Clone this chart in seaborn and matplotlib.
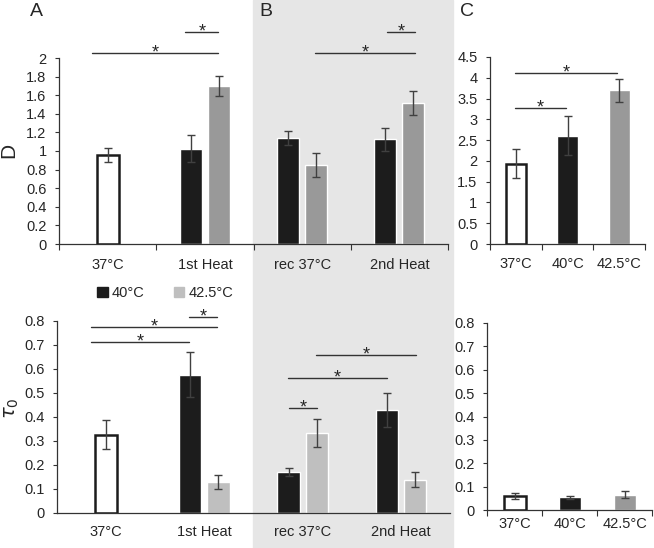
import numpy as np
import pandas as pd
import seaborn as sns
import matplotlib.pyplot as plt
from matplotlib.patches import Rectangle, Patch
from matplotlib.ticker import FuncFormatter

sns.set_style("white")
plt.rcParams['font.family'] = ['Liberation Sans', 'DejaVu Sans']
plt.rcParams['mathtext.fontset'] = 'dejavusans'

# ---- data ----
ab_cats = ['37°C', '1st Heat', 'rec 37°C', '2nd Heat']
temps = ['40°C', '42.5°C']
heat_cond = ['1st Heat', '1st Heat', 'rec 37°C', 'rec 37°C', '2nd Heat', '2nd Heat']
heat_temp = ['40°C', '42.5°C', '40°C', '42.5°C', '40°C', '42.5°C']

d_ctrl = 0.955
d_ctrl_err = 0.075
d_40 = [1.025, 1.14, 1.125]
d_40_err = [0.145, 0.075, 0.125]
d_425 = [1.70, 0.85, 1.52]
d_425_err = [0.105, 0.13, 0.13]

tau_ctrl = 0.327
tau_ctrl_err = 0.06
tau_40 = [0.577, 0.170, 0.43]
tau_40_err = [0.095, 0.016, 0.07]
tau_425 = [0.129, 0.335, 0.138]
tau_425_err = [0.028, 0.058, 0.031]

c_cats = ['37°C', '40°C', '42.5°C']
c_d = [1.93, 2.61, 3.70]
c_d_err = [0.35, 0.47, 0.28]
c_tau = [0.061, 0.054, 0.066]
c_tau_err = [0.013, 0.007, 0.016]

BLACK = '#1c1c1c'
GREY = '#999999'
LGREY = '#bfbfbf'
ERR = '#404040'
FS = 10.5

W, H = 654, 548
fig = plt.figure(figsize=(W / 100, H / 100), dpi=100)
fig.patch.set_facecolor('white')
fig.patches.append(Rectangle((253 / W, 0), 200 / W, 1, transform=fig.transFigure,
                             color='#e6e6e6', zorder=-10))


def px_axes(left, right, base, top):
    ax = fig.add_axes([left / W, 1 - base / H, (right - left) / W, (base - top) / H])
    ax.set_facecolor('none')
    return ax


def errbars(ax, container, errs):
    for bar, e in zip(container, errs):
        x = bar.get_x() + bar.get_width() / 2
        ax.errorbar(x, bar.get_height(), yerr=e, color=ERR, lw=1, capsize=3,
                    capthick=1, zorder=5)


def draw_ab(ax, ctrl, ctrl_err, v40, e40, v425, e425, grey):
    vals = [v for pair in zip(v40, v425) for v in pair]
    df = pd.DataFrame({'cond': heat_cond, 'temp': heat_temp, 'val': vals})
    sns.barplot(data=df, x='cond', y='val', hue='temp', order=ab_cats, hue_order=temps,
                palette=[BLACK, grey], width=0.575, gap=0.21, errorbar=None,
                saturation=1, legend=False, ax=ax)
    ctrl_df = pd.DataFrame({'cond': ['37°C'], 'val': [ctrl]})
    sns.barplot(data=ctrl_df, x='cond', y='val', order=ab_cats, color='white',
                edgecolor=BLACK, linewidth=1.8, width=0.227, errorbar=None,
                saturation=1, ax=ax)
    errbars(ax, ax.containers[0], e40)
    errbars(ax, ax.containers[1], e425)
    errbars(ax, ax.containers[2], [ctrl_err])


def draw_c(ax, vals, errs):
    df = pd.DataFrame({'cond': c_cats, 'val': vals})
    sns.barplot(data=df, x='cond', y='val', hue='cond', order=c_cats,
                palette=['white', BLACK, GREY], width=0.4, errorbar=None,
                saturation=1, legend=False, ax=ax)
    first = ax.containers[0][0]
    first.set_edgecolor(BLACK)
    first.set_linewidth(1.8)
    for cont, e in zip(ax.containers, errs):
        errbars(ax, cont, [e])


def style(ax, cats, ymax, step, xticks=True, pad=10):
    n = len(cats)
    ax.set_xlim(-0.5, n - 0.5)
    ax.set_ylim(0, ymax)
    ax.set_xticks(np.arange(n + 1) - 0.5)
    ax.set_xticklabels([])
    ax.set_xticks(np.arange(n), minor=True)
    ax.set_xticklabels(cats, minor=True)
    ax.tick_params(axis='x', which='minor', length=0, pad=pad, labelsize=FS)
    ax.tick_params(axis='x', which='major', length=4 if xticks else 0,
                   width=0.8, color='#333333', direction='out', bottom=True)
    ax.set_yticks(np.arange(0, ymax + step / 2, step))
    ax.yaxis.set_major_formatter(FuncFormatter(lambda v, p: f'{v:g}'))
    ax.tick_params(axis='y', length=3, width=0.8, color='#333333', direction='out',
                   left=True, labelsize=FS, pad=6)
    ax.set_xlabel('')
    ax.set_ylabel('')
    for s in ['top', 'right']:
        ax.spines[s].set_visible(False)
    for s in ['left', 'bottom']:
        ax.spines[s].set_color('#333333')
        ax.spines[s].set_linewidth(0.9)


def sig(ax, x1, x2, y):
    ax.plot([x1, x2], [y, y], color='#333333', lw=1, clip_on=False)
    ax.annotate('*', ((x1 + x2) / 2, y), xytext=(0, -3), textcoords='offset points',
                ha='center', va='baseline', fontsize=13, annotation_clip=False)


# ---- top A/B : D ----
ax1 = px_axes(59, 448, 244, 58)
draw_ab(ax1, d_ctrl, d_ctrl_err, d_40, d_40_err, d_425, d_425_err, GREY)
style(ax1, ab_cats, 2, 0.2, pad=10)
sig(ax1, -0.16, 1.14, 2.05)
sig(ax1, 0.80, 1.14, 2.28)
sig(ax1, 2.13, 3.16, 2.05)
sig(ax1, 2.87, 3.16, 2.28)

# ---- top C : D ----
ax2 = px_axes(490, 645, 244, 57)
draw_c(ax2, c_d, c_d_err)
style(ax2, c_cats, 4.5, 0.5, pad=9)
sig(ax2, -0.02, 0.97, 3.27)
sig(ax2, -0.02, 1.96, 4.11)

# ---- bottom A/B : tau0 ----
ax3 = px_axes(57, 450, 513, 321)
draw_ab(ax3, tau_ctrl, tau_ctrl_err, tau_40, tau_40_err, tau_425, tau_425_err, LGREY)
style(ax3, ab_cats, 0.8, 0.1, xticks=False, pad=9)
sig(ax3, -0.154, 1.128, 0.775)
sig(ax3, -0.154, 0.843, 0.7125)
sig(ax3, 0.843, 1.128, 0.817)
sig(ax3, 1.86, 2.146, 0.4375)
sig(ax3, 1.851, 2.859, 0.5625)
sig(ax3, 2.136, 3.154, 0.658)

handles = [Patch(color=BLACK), Patch(color=LGREY)]
fig.legend(handles, temps, loc='center left', bbox_to_anchor=(90 / W, 1 - 293 / H),
           ncol=2, frameon=False, fontsize=FS, handlelength=0.7, handleheight=0.7,
           handletextpad=0.3, columnspacing=2.0, borderpad=0)

# ---- bottom C : tau0 ----
ax4 = px_axes(487, 652, 510, 323)
draw_c(ax4, c_tau, c_tau_err)
style(ax4, c_cats, 0.8, 0.1, pad=5)

# ---- labels ----
fig.text(36 / W, 1 - 12 / H, 'A', fontsize=14, ha='center', va='center')
fig.text(266 / W, 1 - 12 / H, 'B', fontsize=14, ha='center', va='center')
fig.text(467 / W, 1 - 12 / H, 'C', fontsize=14, ha='center', va='center')
fig.text(9 / W, 1 - 150 / H, 'D', fontsize=15, rotation=90, ha='center', va='center')
fig.text(12 / W, 1 - 408 / H, r'$\tau_0$', fontsize=14, rotation=90, ha='center',
         va='center')

fig.savefig('out.png', dpi=100)
